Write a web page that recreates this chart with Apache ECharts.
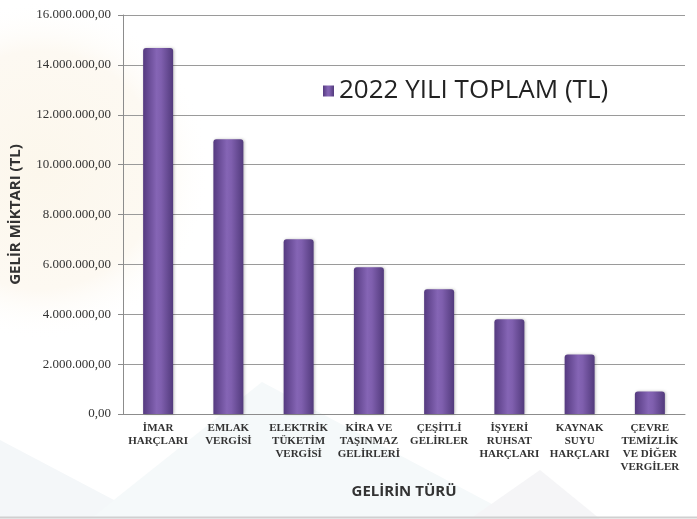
<!DOCTYPE html>
<html>
<head>
<meta charset="utf-8">
<script src="https://cdn.jsdelivr.net/npm/echarts@6/dist/echarts.min.js"></script>
<style>
    html, body { margin: 0; padding: 0; background: #fff; }
    #chart { width: 697px; height: 519px; }
</style>
</head>
<body>
<div id="chart"></div>
<script>
    // gelir türleri (x ekseni)
    var categories = [
        'İMAR\nHARÇLARI',
        'EMLAK\nVERGİSİ',
        'ELEKTRİK\nTÜKETİM\nVERGİSİ',
        'KİRA VE\nTAŞINMAZ\nGELİRLERİ',
        'ÇEŞİTLİ\nGELİRLER',
        'İŞYERİ\nRUHSAT\nHARÇLARI',
        'KAYNAK\nSUYU\nHARÇLARI',
        'ÇEVRE\nTEMİZLİK\nVE DİĞER\nVERGİLER'
    ]
    var seriesName = '2022 YILI TOPLAM (TL)'
    // 2022 toplamları (TL)
    var values = [14680000, 11020000, 7010000, 5880000, 5000000, 3800000, 2390000, 900000]

    // 16.000.000,00 biçimi
    function formatTL(v) {
        var s = Math.round(v).toString().replace(/\B(?=(\d{3})+(?!\d))/g, '.')
        return s + ',00'
    }

    var chart = echarts.init(document.getElementById('chart'))

    var barColor = new echarts.graphic.LinearGradient(0, 0, 1, 0, [
        {offset: 0, color: '#553a80'},
        {offset: 0.45, color: '#8565b5'},
        {offset: 0.6, color: '#7f5fae'},
        {offset: 1, color: '#523a7c'}
    ])

    var option = {
        animation: false,
        backgroundColor: '#ffffff',
        // arka plandaki soluk şekiller
        graphic: [
            {type: 'circle', z: -10, silent: true, shape: {cx: 40, cy: 170, r: 170},
                style: {fill: new echarts.graphic.RadialGradient(0.5, 0.5, 0.5, [
                    {offset: 0, color: '#fcf7ec'},
                    {offset: 0.7, color: '#fdf9f2'},
                    {offset: 1, color: 'rgba(255,255,255,0)'}
                ])}},
            {type: 'polygon', z: -10, silent: true, shape: {points: [[0, 440], [150, 519], [0, 519]]},
                style: {fill: '#f4f7f9'}},
            {type: 'polygon', z: -10, silent: true, shape: {points: [[90, 519], [262, 382], [520, 519]]},
                style: {fill: '#f5f9fa'}},
            {type: 'polygon', z: -10, silent: true, shape: {points: [[470, 519], [540, 470], [600, 519]]},
                style: {fill: '#f5f5f7'}},
            {type: 'line', z: -10, silent: true, shape: {x1: 0, y1: 517.5, x2: 697, y2: 517.5},
                style: {stroke: '#d0d0d0', lineWidth: 2}}
        ],
        legend: {
            left: 318,
            top: 73,
            icon: 'rect',
            itemWidth: 11,
            itemHeight: 11,
            textStyle: {
                fontFamily: 'Open Sans',
                fontSize: 26,
                color: '#222'
            },
            data: [seriesName]
        },
        grid: {
            left: 122,
            right: 12,
            top: 15,
            bottom: 105
        },
        xAxis: {
            type: 'category',
            data: categories,
            name: 'GELİRİN TÜRÜ',
            nameLocation: 'middle',
            nameGap: 70,
            nameTextStyle: {
                fontFamily: 'Open Sans',
                fontWeight: 'bold',
                fontSize: 15,
                color: '#333'
            },
            axisLine: {lineStyle: {color: '#8c8c8c'}},
            axisTick: {show: false},
            axisLabel: {
                interval: 0,
                margin: 8,
                fontFamily: 'Liberation Serif',
                fontWeight: 'bold',
                fontSize: 11,
                lineHeight: 13,
                color: '#333'
            }
        },
        yAxis: {
            type: 'value',
            min: 0,
            max: 16000000,
            interval: 2000000,
            name: 'GELİR MİKTARI (TL)',
            nameLocation: 'middle',
            nameGap: 100,
            nameTextStyle: {
                fontFamily: 'Open Sans',
                fontWeight: 'bold',
                fontSize: 15,
                color: '#333'
            },
            axisLine: {show: true, lineStyle: {color: '#8c8c8c'}},
            axisTick: {show: true, length: 5, lineStyle: {color: '#8c8c8c'}},
            splitLine: {lineStyle: {color: '#9a9a9a', width: 1}},
            axisLabel: {
                margin: 12,
                fontFamily: 'Liberation Serif',
                fontSize: 13,
                color: '#333',
                formatter: formatTL
            }
        },
        series: [{
            name: seriesName,
            type: 'bar',
            barWidth: 30,
            data: values,
            itemStyle: {
                color: barColor,
                borderRadius: [3, 3, 0, 0],
                shadowColor: 'rgba(0,0,0,0.25)',
                shadowBlur: 3,
                shadowOffsetX: 1
            }
        }]
    }

    chart.setOption(option)
</script>
</body>
</html>
